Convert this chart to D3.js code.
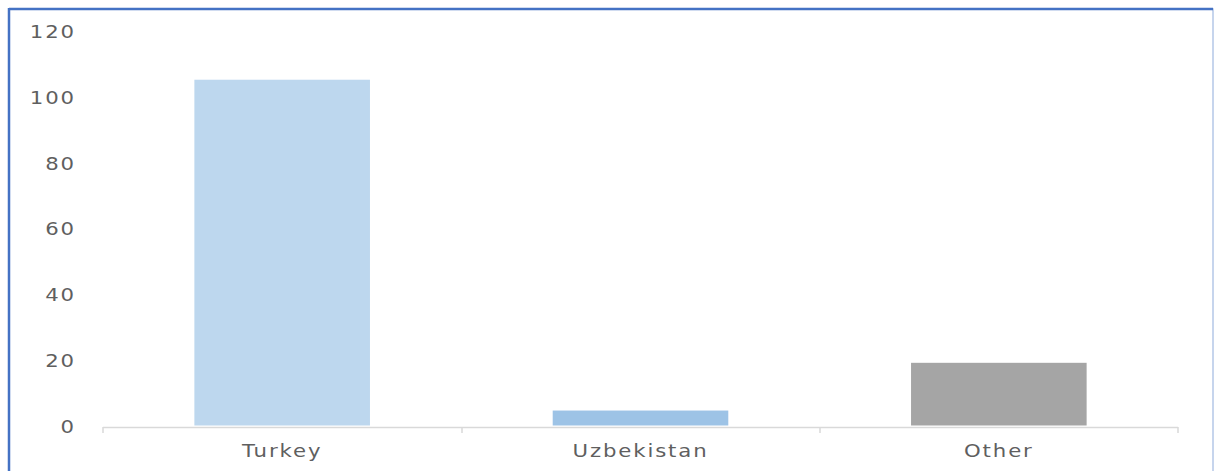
<!DOCTYPE html>
<html>
<head>
<meta charset="utf-8">
<script src="https://cdn.jsdelivr.net/npm/d3@7"></script>
<style>
    body { margin: 0; background: #fff; }
    svg { display: block; }
    .tick text { font-family: "DejaVu Sans", sans-serif; font-size: 17px; fill: #5f5f5f; letter-spacing: 1.5px; }
</style>
</head>
<body>
<div id="graph"></div>
<script>
const categories = ['Turkey', 'Uzbekistan', 'Other'];
const values = [105.5, 5, 19.5];
const barColors = ['#bdd7ee', '#9dc3e6', '#a5a5a5'];
const yTicks = [0, 20, 40, 60, 80, 100, 120];

const width = 1214;
const height = 471;
const textStretch = 'scale(1.25, 1)';

let svg = d3.select('div#graph')
    .append('svg')
    .attr('width', width)
    .attr('height', height);

// chart frame
svg.append('rect')
    .attr('x', 9).attr('y', 9)
    .attr('width', 1204).attr('height', 470)
    .attr('fill', 'none')
    .attr('stroke', '#b4c7e7')
    .attr('stroke-width', 1.5);
svg.append('line')
    .attr('x1', 9).attr('x2', 1213).attr('y1', 9).attr('y2', 9)
    .attr('stroke', '#4472c4').attr('stroke-width', 2.5);
svg.append('line')
    .attr('x1', 9).attr('x2', 9).attr('y1', 8).attr('y2', height)
    .attr('stroke', '#4472c4').attr('stroke-width', 2.5);

let scaleX = d3.scaleBand()
    .domain(categories)
    .range([103, 1178])
    .paddingInner(0.51)
    .paddingOuter(0.255);

let scaleY = d3.scaleLinear()
    .domain([0, 120])
    .range([427, 32]);

// y axis labels (no line)
let yAxis = d3.axisLeft(scaleY)
    .tickValues(yTicks)
    .tickSize(0)
    .tickPadding(0);
let yG = svg.append('g')
    .attr('transform', 'translate(76, 0)')
    .call(yAxis);
yG.select('.domain').remove();
yG.selectAll('.tick text').attr('transform', textStretch);

// bars
svg.selectAll('rect.bar')
    .data(values)
    .enter()
    .append('rect')
        .attr('class', 'bar')
        .attr('x', (d, i) => scaleX(categories[i]))
        .attr('y', d => scaleY(d))
        .attr('width', scaleX.bandwidth())
        .attr('height', d => scaleY(0) - 1.5 - scaleY(d))
        .attr('fill', (d, i) => barColors[i]);

// x axis
let xAxis = d3.axisBottom(scaleX)
    .tickSize(0)
    .tickPadding(17);
let xG = svg.append('g')
    .attr('transform', 'translate(0, 427.5)')
    .call(xAxis);
xG.select('.domain')
    .attr('stroke', '#d9d9d9')
    .attr('stroke-width', 1.5)
    .attr('d', 'M103,0H1178');
xG.selectAll('.tick text').attr('transform', textStretch);

// category separators
let bounds = [103, 462, 820, 1178];
svg.append('g')
    .selectAll('line')
    .data(bounds)
    .enter()
    .append('line')
        .attr('x1', d => d).attr('x2', d => d)
        .attr('y1', 427).attr('y2', 433)
        .attr('stroke', '#d9d9d9')
        .attr('stroke-width', 1.5);
</script>
</body>
</html>
